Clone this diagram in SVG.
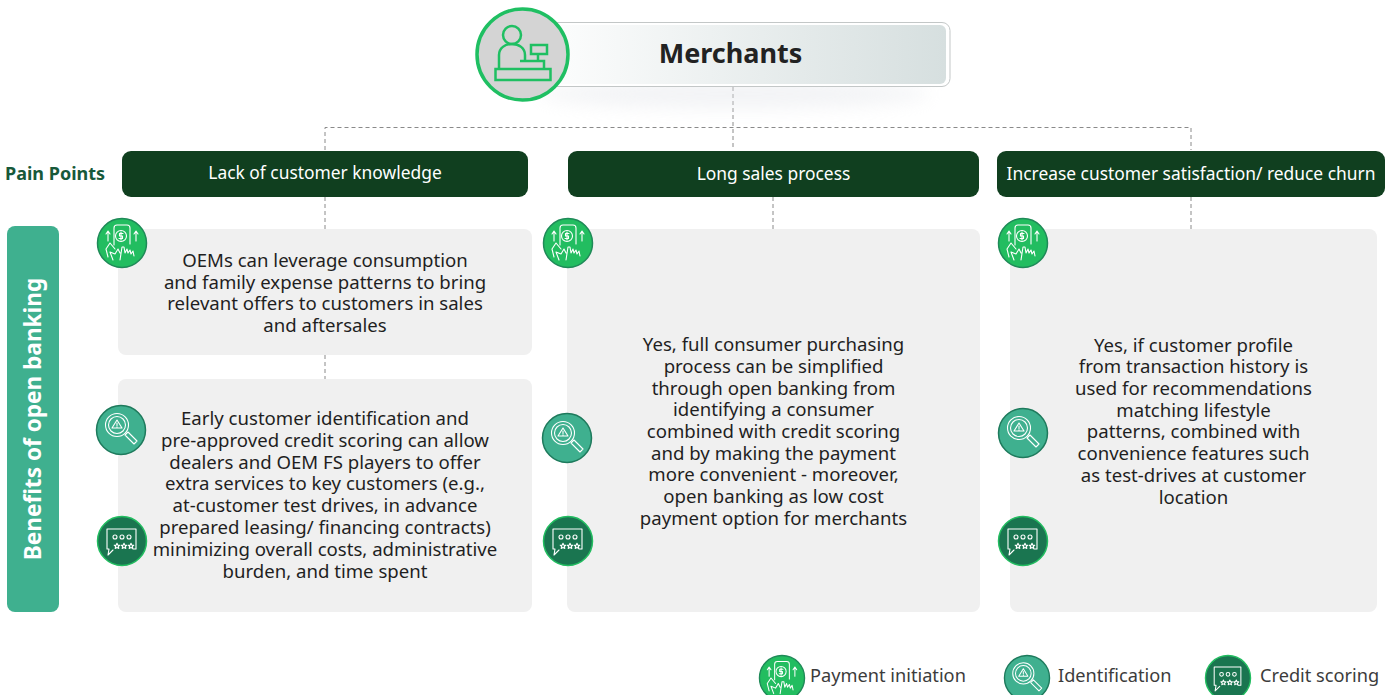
<svg xmlns="http://www.w3.org/2000/svg" width="1394" height="695" viewBox="0 0 1394 695">
<style>
text{font-family:"Noto Sans","Liberation Sans",sans-serif;}
.b{font-size:18.6px;fill:#1f1f1f;text-anchor:middle}
.h{font-size:17.4px;fill:#fff;text-anchor:middle}
.l{font-size:18.2px;fill:#3c3c3c}
.card{fill:#f0f0f0}
.head{fill:#103f1f}
.dash{fill:none;stroke:#8a8a8a;stroke-width:1;stroke-dasharray:4 3}
.ic{fill:none;stroke:#fff;stroke-width:1.1;stroke-linecap:round;stroke-linejoin:round}
</style>
<defs>
<linearGradient id="mg" x1="0" x2="1" y1="0" y2="0"><stop offset="0" stop-color="#fff"/><stop offset="1" stop-color="#d6dfdf"/></linearGradient>
<filter id="bl" x="-10%" y="-80%" width="120%" height="260%"><feGaussianBlur stdDeviation="9"/></filter>
<path id="star" d="M0-2.800L.8-.9 2.800-.8 1.300.5 1.800 2.400 0 1.400-1.800 2.400-1.300.5-2.800-.8-.8-.9Z"/>
<g id="pay">
<circle r="24.5" fill="#22bd60" stroke="#1f8a58" stroke-width="1.500"/>
<g class="ic"><path d="M-8 2V-15Q-8-18-5-18H5Q8-18 8-15V1"/><circle cx="-1" cy="-7" r="5.500"/><path d="M1-9.500H-2.500V-7H.5V-4.500H-3M-1-11V-3"/><path d="M-14 14L-16 6-12 0-7 6M-9 17L-12 9-7 11-4 6-2 10M-2 17L0 4 2 4 3 10 5 6 6 10 8 7 9 11 11 8 12 13M-14-2V-12M-16-9L-14-12-12-9M14-2V-12M12-9L14-12 16-9"/></g>
</g>
<g id="idn">
<circle r="24.500" fill="#3fb08f" stroke="#1e7a5c" stroke-width="1.500"/>
<g class="ic"><circle cx="-4" cy="-5" r="11.500"/><circle cx="-4" cy="-5" r="8.500"/><path d="M-4-10L1-2H-9ZM-4-7V-4.500M-4-3.200V-3M4 5L7 2 16 11 13 14Z"/></g>
</g>
<g id="crd">
<circle r="24.500" fill="#1a7550" stroke="#22bd60" stroke-width="1.500"/>
<g class="ic"><path d="M11 8H14V-12H-15V8H-13L-14 14-9 9"/><circle cx="-7" cy="-4" r="2"/><circle cx="0" cy="-4" r="2"/><circle cx="7" cy="-4" r="2"/><use href="#star" x="-5" y="5"/><use href="#star" x="2" y="5"/><use href="#star" x="9" y="5"/></g>
</g>
</defs>

<g id="connectors">
<path class="dash" d="M733 87V150M325 150V127.500H1191V150M325 197V229M773 197V229M1191 197V229M325 355V379"/>
</g>

<g id="merchants">
<ellipse cx="735" cy="94" rx="195" ry="14" fill="#e3e5ea" opacity=".45" filter="url(#bl)"/>
<rect x="522" y="22.500" width="428" height="64" rx="8" fill="#fff" stroke="#c3c7c7"/>
<rect x="526" y="25" width="420" height="59" rx="6" fill="url(#mg)"/>
<circle cx="522.500" cy="54.500" r="45.500" fill="#d4d4d4" stroke="#1fbf62" stroke-width="3.500"/>
<g fill="none" stroke="#1fbf62" stroke-width="2.500">
<circle cx="512" cy="35" r="9"/>
<path d="M499 69V55C499 48 505 44 512 44S525 48 525 55V61"/>
<path d="M520 61H544V69"/>
<rect x="531" y="45" width="16" height="9"/>
<path d="M538 54V61"/>
<rect x="495.500" y="69" width="55" height="11"/>
</g>
<text x="730.500" y="63" font-size="27" font-weight="700" fill="#222" text-anchor="middle">Merchants</text>
</g>

<g id="pain-label"><text x="5" y="180" font-size="18" font-weight="700" fill="#17593a">Pain Points</text></g>
<g id="pain-1"><rect class="head" x="122" y="151" width="406" height="46" rx="9"/><text class="h" x="325" y="179">Lack of customer knowledge</text></g>
<g id="pain-2"><rect class="head" x="568" y="151" width="411" height="46" rx="9"/><text class="h" x="773.500" y="180">Long sales process</text></g>
<g id="pain-3"><rect class="head" x="997" y="151" width="388" height="46" rx="9"/><text class="h" x="1191" y="180">Increase customer satisfaction/ reduce churn</text></g>

<g id="benefits"><rect x="7" y="226" width="52" height="386" rx="8" fill="#3fb08f"/><text transform="translate(41 419) rotate(-90)" font-size="22.600" font-weight="700" fill="#fff" text-anchor="middle">Benefits of open banking</text></g>

<g id="card-1"><rect class="card" x="118" y="229" width="414" height="126" rx="8"/>
<text class="b" x="325" y="267">OEMs can leverage consumption</text>
<text class="b" x="325" y="288.700">and family expense patterns to bring</text>
<text class="b" x="325" y="310">relevant offers to customers in sales</text>
<text class="b" x="325" y="332">and aftersales</text></g>

<g id="card-2"><rect class="card" x="118" y="379" width="414" height="233" rx="8"/>
<text class="b" x="325" y="425">Early customer identification and</text>
<text class="b" x="325" y="447">pre-approved credit scoring can allow</text>
<text class="b" x="325" y="469">dealers and OEM FS players to offer</text>
<text class="b" x="325" y="490">extra services to key customers (e.g.,</text>
<text class="b" x="325" y="512">at-customer test drives, in advance</text>
<text class="b" x="325" y="534">prepared leasing/ financing contracts)</text>
<text class="b" x="325" y="556">minimizing overall costs, administrative</text>
<text class="b" x="325" y="578">burden, and time spent</text></g>

<g id="card-3"><rect class="card" x="567" y="229" width="413" height="383" rx="8"/>
<text class="b" x="773.500" y="351">Yes, full consumer purchasing</text>
<text class="b" x="773.500" y="373">process can be simplified</text>
<text class="b" x="773.500" y="395">through open banking from</text>
<text class="b" x="773.500" y="416">identifying a consumer</text>
<text class="b" x="773.500" y="438">combined with credit scoring</text>
<text class="b" x="773.500" y="460">and by making the payment</text>
<text class="b" x="773.500" y="481">more convenient - moreover,</text>
<text class="b" x="773.500" y="503">open banking as low cost</text>
<text class="b" x="773.500" y="525">payment option for merchants</text></g>

<g id="card-4"><rect class="card" x="1010" y="229" width="367" height="383" rx="8"/>
<text class="b" x="1193.500" y="352">Yes, if customer profile</text>
<text class="b" x="1193.500" y="373">from transaction history is</text>
<text class="b" x="1193.500" y="395">used for recommendations</text>
<text class="b" x="1193.500" y="417">matching lifestyle</text>
<text class="b" x="1193.500" y="438">patterns, combined with</text>
<text class="b" x="1193.500" y="460">convenience features such</text>
<text class="b" x="1193.500" y="482">as test-drives at customer</text>
<text class="b" x="1193.500" y="504">location</text></g>

<g id="icons">
<use href="#pay" x="122" y="243"/><use href="#idn" x="121" y="430"/><use href="#crd" x="122" y="541"/>
<use href="#pay" x="568" y="243"/><use href="#idn" x="567" y="438"/><use href="#crd" x="568" y="541"/>
<use href="#pay" x="1023" y="243"/><use href="#idn" x="1023" y="433"/><use href="#crd" x="1023" y="541"/>
</g>

<g id="legend">
<use href="#pay" transform="translate(782 678) scale(.92)"/><text class="l" x="810" y="682">Payment initiation</text>
<use href="#idn" transform="translate(1027 678) scale(.92)"/><text class="l" x="1058" y="682">Identification</text>
<use href="#crd" transform="translate(1228 678) scale(.92)"/><text class="l" x="1260" y="682">Credit scoring</text>
</g>
</svg>
